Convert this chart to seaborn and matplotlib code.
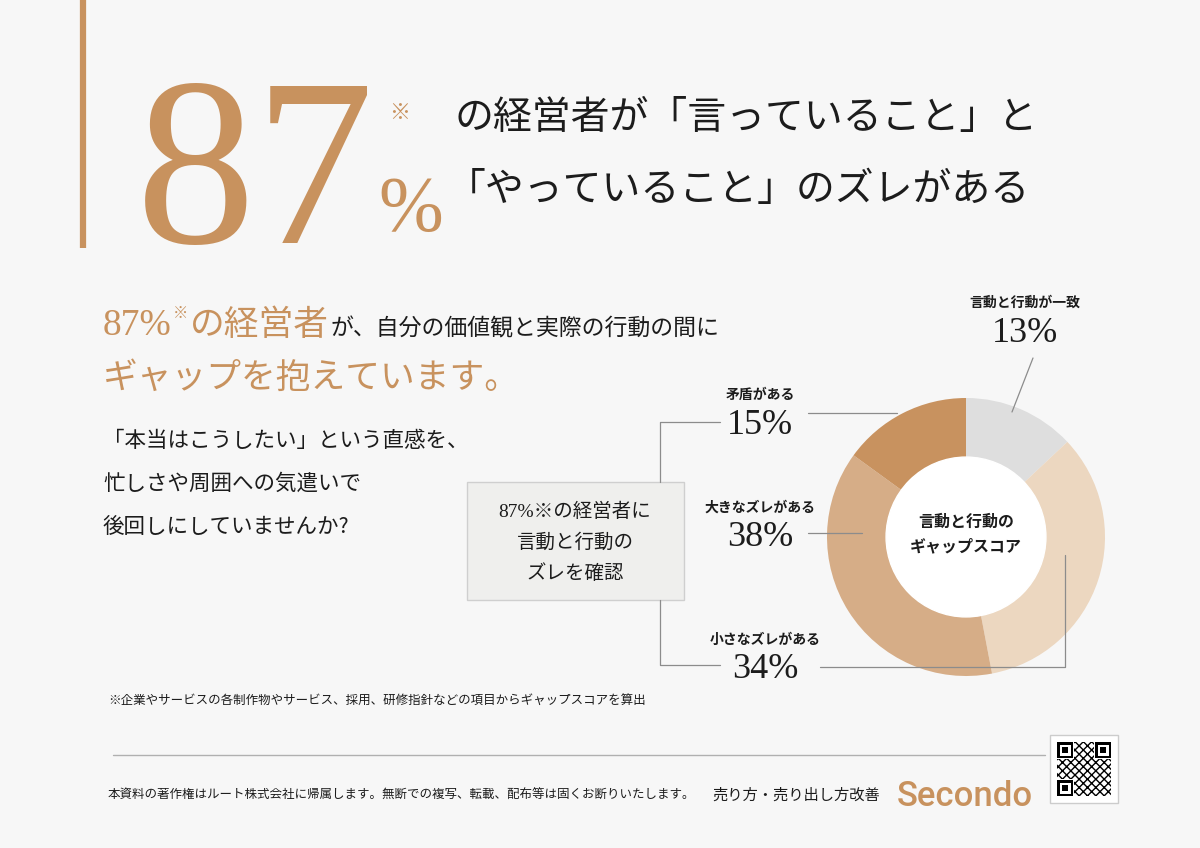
import matplotlib
matplotlib.use('Agg')
import matplotlib.pyplot as plt
from matplotlib.patches import Rectangle, Circle
import seaborn as sns

# data
segments = ['言動と行動が一致', '小さなズレがある', '大きなズレがある', '矛盾がある']
shares = [13, 34, 38, 15]
headline_pct = 87

sns.set_theme(style='white')
plt.rcParams['font.family'] = ['Noto Sans CJK JP', 'DejaVu Sans']

BG = '#f7f7f7'
TAN = '#c8925e'
INK = '#1c1c1c'
LINE = '#8c8c8c'
SERIF = ['Liberation Serif', 'Noto Sans CJK JP', 'DejaVu Sans']
seg_colors = sns.color_palette(['#dedede', '#ecd7c0', '#d6ad87', '#c8925f'])

fig = plt.figure(figsize=(12, 8.48), dpi=100, facecolor=BG)

# donut chart
cx, cy, r = 966, 537, 139
dax = fig.add_axes([(cx - r) / 1200, (848 - cy - r) / 848, 2 * r / 1200, 2 * r / 848])
dax.pie(shares, colors=seg_colors, startangle=90, counterclock=False, radius=1,
        wedgeprops=dict(width=0.43, edgecolor='none'))
dax.add_patch(Circle((0, 0), 0.575, color='white', zorder=3))
dax.text(0, 0.02, '言動と行動の\nギャップスコア', ha='center', va='center', fontsize=11.5,
         fontweight='bold', color=INK, linespacing=1.6, zorder=4)
dax.set_xlim(-1, 1)
dax.set_ylim(-1, 1)
dax.set_aspect('equal')
dax.axis('off')

# overlay in pixel coordinates
ax = fig.add_axes([0, 0, 1, 1], zorder=5)
ax.set_xlim(0, 1200)
ax.set_ylim(848, 0)
ax.axis('off')
ax.patch.set_alpha(0)
renderer = fig.canvas.get_renderer()


def chain(x, y, parts):
    for s, kw in parts:
        t = ax.text(x, y, s, ha='left', va='baseline', **kw)
        bb = t.get_window_extent(renderer)
        x = ax.transData.inverted().transform((bb.x1, bb.y0))[0]
    return x


# header
ax.plot([83, 83], [0, 248], color=TAN, lw=4.5, solid_capstyle='butt')
ax.text(136, 243, str(headline_pct), ha='left', va='baseline', fontsize=172,
        family=SERIF, color=TAN)
ax.text(378, 230, '%', ha='left', va='baseline', fontsize=56, family=SERIF, color=TAN)
ax.text(400, 113, '※', ha='center', va='center', fontsize=15, color=TAN)
ax.text(455, 118, 'の経営者が「言っていること」と', ha='left', va='center',
        fontsize=28, color=INK)
ax.text(447, 190, '「やっていること」のズレがある', ha='left', va='center',
        fontsize=28, color=INK)

# lead text
x = chain(103, 335, [(f'{headline_pct}%', dict(fontsize=27, family=SERIF, color=TAN))])
x = chain(x + 1, 318, [('※', dict(fontsize=11, color=TAN))])
x = chain(x + 2, 335, [('の経営者', dict(fontsize=25, color=TAN))])
chain(x + 2, 335, [('が、自分の価値観と実際の行動の間に', dict(fontsize=16.5, color=INK))])
ax.text(103, 388, 'ギャップを抱えています。', ha='left', va='baseline', fontsize=25, color=TAN)

body = ['「本当はこうしたい」という直感を、', '忙しさや周囲への気遣いで', '後回しにしていませんか?']
for i, line in enumerate(body):
    ax.text(103, 447 + i * 43, line, ha='left', va='baseline', fontsize=15.5, color=INK)

# box with bracket
ax.add_patch(Rectangle((467, 482), 217, 118, facecolor='#efefed', edgecolor='#cfcfcf', lw=1))
box_lines = [f'{headline_pct}%※の経営者に', '言動と行動の', 'ズレを確認']
for i, line in enumerate(box_lines):
    ax.text(575, 512 + i * 31, line, ha='center', va='center', fontsize=14,
            family=SERIF, color=INK)
ax.plot([720, 660, 660], [422, 422, 482], color=LINE, lw=0.9)
ax.plot([660, 660, 720], [600, 665, 665], color=LINE, lw=0.9)

# segment labels and leader lines
label_pos = [(1025, 303), (765, 640), (760, 508), (760, 395)]
leaders = [([1012, 1033], [412, 358]),
           ([820, 1065, 1065], [667, 667, 555]),
           ([808, 862], [533, 533]),
           ([808, 897], [413, 413])]
for name, val, (lx, ly), (px, py) in zip(segments, shares, label_pos, leaders):
    ax.text(lx, ly, name, ha='center', va='center', fontsize=10, fontweight='bold', color=INK)
    ax.text(lx, ly + 30, f'{val}%', ha='center', va='center', fontsize=26,
            family=SERIF, color=INK)
    ax.plot(px, py, color=LINE, lw=0.9)

# footnote and footer
ax.text(108, 700, '※企業やサービスの各制作物やサービス、採用、研修指針などの項目からギャップスコアを算出',
        ha='left', va='center', fontsize=9, color=INK)
ax.plot([113, 1045], [755, 755], color='#b0b0b0', lw=1)
ax.text(108, 795, '本資料の著作権はルート株式会社に帰属します。無断での複写、転載、配布等は固くお断りいたします。',
        ha='left', va='center', fontsize=9, color=INK)
ax.text(712, 795, '売り方・売り出し方改善', ha='left', va='center', fontsize=11, color=INK)
ax.text(897, 806, 'Secondo', ha='left', va='baseline', fontsize=25, family=['Roboto'],
        fontweight='medium', color=TAN)

# QR code placeholder
ax.add_patch(Rectangle((1050, 735), 68, 68, facecolor='white', edgecolor='#cccccc', lw=1))
ax.add_patch(Rectangle((1057, 742), 54, 54, facecolor='white', edgecolor='black',
                       hatch='xxxx', lw=0))
for qx, qy in [(1057, 742), (1095, 742), (1057, 780)]:
    ax.add_patch(Rectangle((qx - 1, qy - 1), 18, 18, facecolor='white', edgecolor='none'))
    ax.add_patch(Rectangle((qx, qy), 16, 16, facecolor='black', edgecolor='none'))
    ax.add_patch(Rectangle((qx + 2.5, qy + 2.5), 11, 11, facecolor='white', edgecolor='none'))
    ax.add_patch(Rectangle((qx + 5, qy + 5), 6, 6, facecolor='black', edgecolor='none'))

fig.savefig('out.png', dpi=100, facecolor=BG)
